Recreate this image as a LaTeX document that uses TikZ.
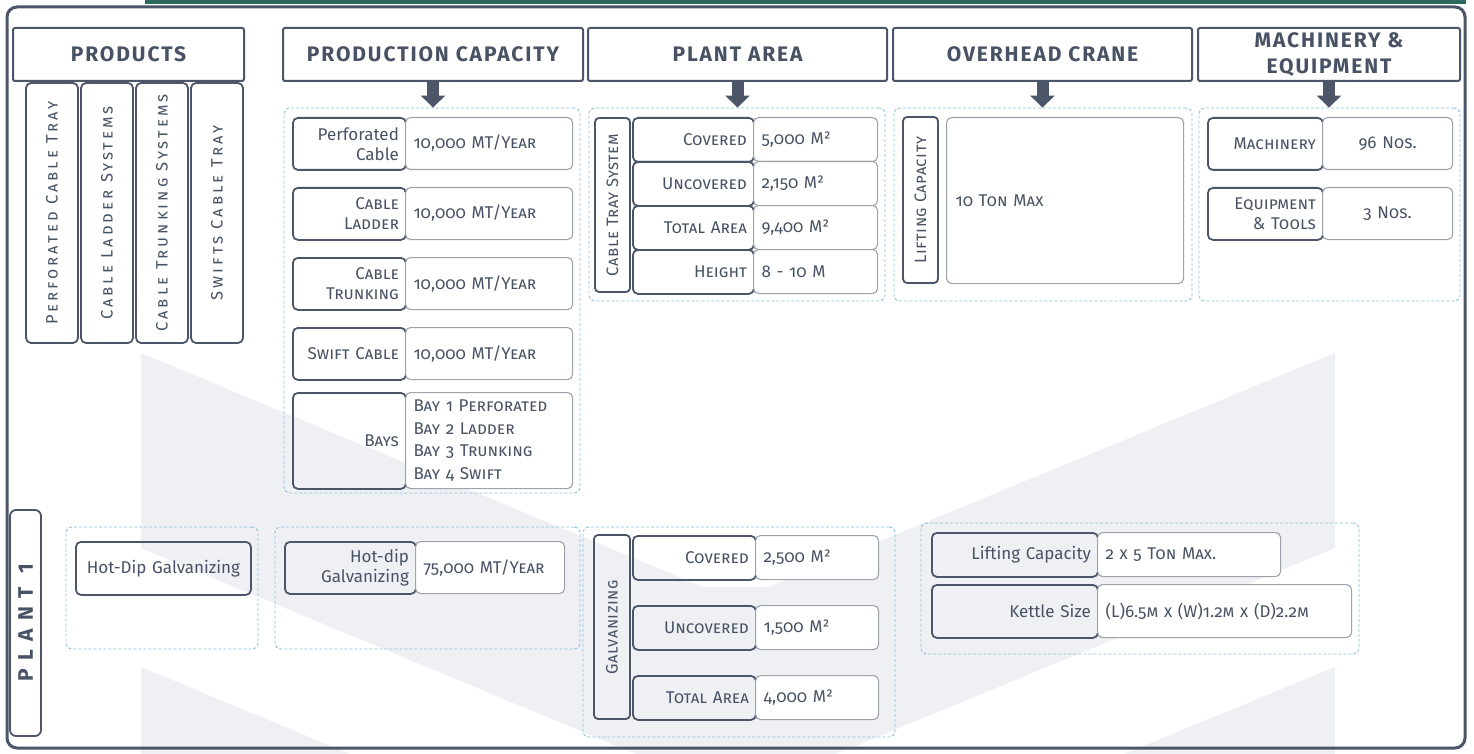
\documentclass[tikz,border=0pt]{standalone}
\usepackage{fontspec}
\setmainfont{Fira Sans}[Numbers=OldStyle]
\newfontfamily\headfont{Fira Sans}[LetterSpace=9]
\newfontfamily\prodfont{Fira Sans}[LetterSpace=18,Numbers=OldStyle]
\newfontfamily\sidefont{Fira Sans}[LetterSpace=3,Numbers=OldStyle]
\newfontfamily\plantfont{Fira Sans}[LetterSpace=40]
\usetikzlibrary{arrows.meta}

\definecolor{slate}{RGB}{76,86,104}
\definecolor{inkc}{RGB}{72,82,100}
\definecolor{valedge}{RGB}{158,162,170}
\definecolor{dashc}{RGB}{140,195,220}
\definecolor{wmark}{RGB}{239,240,244}
\definecolor{topbar}{RGB}{45,104,92}

\newcommand{\bodyfont}{\fontsize{17}{20}\selectfont}

\tikzset{
	head/.style={draw=slate, line width=2pt, rounded corners=2pt, fill=white, text=inkc, align=center, inner sep=0pt, minimum height=53pt, font=\headfont\fontsize{21}{26}\selectfont\bfseries},
	prod/.style={draw=slate, line width=1.8pt, rounded corners=5pt, fill=white, rotate=90, inner sep=0pt, minimum width=260pt, minimum height=52pt, text=inkc, font=\prodfont\fontsize{16.5}{19}\selectfont\scshape},
	side/.style={draw=slate, line width=1.8pt, rounded corners=4pt, rotate=90, inner sep=0pt, text=inkc, font=\sidefont\fontsize{16.5}{19}\selectfont\scshape},
	lab/.style={draw=slate, line width=1.8pt, rounded corners=5pt, anchor=north west, inner xsep=7pt, inner ysep=0pt, align=right, text=inkc, font=\bodyfont\scshape},
	val/.style={draw=valedge, line width=1.1pt, rounded corners=5pt, fill=white, anchor=north west, inner xsep=8pt, inner ysep=0pt, align=left, text=inkc, font=\bodyfont\scshape},
	grp/.style={draw=dashc, line width=0.9pt, dash pattern=on 3pt off 2pt, rounded corners=6pt, inner sep=0pt},
	bigarr/.style={draw=slate, line width=12pt, -{Triangle[length=12pt,width=24pt]}}
}

\begin{document}
\begin{tikzpicture}[x=1pt,y=-1pt]
	\useasboundingbox (0,0) rectangle (1474,754);
	\fill[white] (0,0) rectangle (1474,754);
	\fill[wmark] (141,353) -- (703,587) -- (769,587) -- (1335,353) -- (1335,548) -- (836,754) -- (636,754) -- (141,548) -- cycle;
	\fill[wmark] (141,667) -- (350,754) -- (141,754) -- cycle;
	\fill[wmark] (1335,667) -- (1335,754) -- (1124,754) -- cycle;
	\fill[topbar] (145,0) rectangle (1466,4);
	\draw[slate, line width=3pt, rounded corners=10pt] (7,7) rectangle (1465,748);

	\node[head, minimum width=231pt] (hProd) at (128.5,54.5) {PRODUCTS};
	\node[head, minimum width=300pt] (hCap) at (433,54.5) {PRODUCTION CAPACITY};
	\node[head, minimum width=299pt] (hArea) at (737.5,54.5) {PLANT AREA};
	\node[head, minimum width=299pt] (hCrane) at (1042.5,54.5) {OVERHEAD CRANE};
	\node[head, minimum width=262pt] (hMach) at (1329,54.5) {MACHINERY \&\\EQUIPMENT};

	\node[prod] (pPerf) at (52,213) {Perforated Cable Tray};
	\node[prod] (pLadder) at (107,213) {Cable Ladder Systems};
	\node[prod] (pTrunk) at (162,213) {Cable Trunking Systems};
	\node[prod] (pSwift) at (217,213) {Swifts Cable Tray};

	\node[grp, minimum width=296pt, minimum height=385pt] (gCap) at (432,300.5) {};
	\node[grp, minimum width=296pt, minimum height=193pt] (gArea) at (737,204.5) {};
	\node[grp, minimum width=298pt, minimum height=193pt] (gCrane) at (1043,204.5) {};
	\node[grp, minimum width=261pt, minimum height=193pt] (gMach) at (1329.5,204.5) {};

	\draw[bigarr] (hCap.south) -- (hCap.south |- gCap.north);
	\draw[bigarr] (hArea.south) -- (hArea.south |- gArea.north);
	\draw[bigarr] (hCrane.south) -- (hCrane.south |- gCrane.north);
	\draw[bigarr] (hMach.south) -- (hMach.south |- gMach.north);

	% production capacity
	\node[lab, font=\bodyfont, text width=99pt, minimum height=52pt] (cPerf) at (292,117) {Perforated\\Cable};
	\node[val, text width=151pt, minimum height=52pt] (vPerf) at (405,117) {10,000 MT/Year};
	\node[lab, text width=99pt, minimum height=52pt] (cLadder) at (292,187) {Cable\\Ladder};
	\node[val, text width=151pt, minimum height=52pt] (vLadder) at (405,187) {10,000 MT/Year};
	\node[lab, text width=99pt, minimum height=52pt] (cTrunk) at (292,257) {Cable\\Trunking};
	\node[val, text width=151pt, minimum height=52pt] (vTrunk) at (405,257) {10,000 MT/Year};
	\node[lab, text width=99pt, minimum height=52pt] (cSwift) at (292,327) {Swift Cable};
	\node[val, text width=151pt, minimum height=52pt] (vSwift) at (405,327) {10,000 MT/Year};
	\node[lab, text width=99pt, minimum height=96pt] (cBays) at (292,392) {Bays};
	\node[val, font=\fontsize{17}{22.5}\selectfont\scshape, text width=151pt, minimum height=96pt] (vBays) at (405,392) {Bay 1 Perforated\\Bay 2 Ladder\\Bay 3 Trunking\\Bay 4 Swift};

	% plant area
	\node[side, minimum width=174pt, minimum height=35pt] (sTray) at (612.5,205) {Cable Tray System};
	\node[lab, text width=107pt, minimum height=44pt] (aCov) at (632,117) {Covered};
	\node[val, text width=108pt, minimum height=44pt] (vCov) at (753,117) {5,000 M²};
	\node[lab, text width=107pt, minimum height=44pt] (aUnc) at (632,161) {Uncovered};
	\node[val, text width=108pt, minimum height=44pt] (vUnc) at (753,161) {2,150 M²};
	\node[lab, text width=107pt, minimum height=44pt] (aTot) at (632,205) {Total Area};
	\node[val, text width=108pt, minimum height=44pt] (vTot) at (753,205) {9,400 M²};
	\node[lab, text width=107pt, minimum height=44pt] (aHgt) at (632,249) {Height};
	\node[val, text width=108pt, minimum height=44pt] (vHgt) at (753,249) {8 - 10 M};

	% overhead crane
	\node[side, minimum width=166pt, minimum height=35pt] (sLift) at (920.5,200) {Lifting Capacity};
	\node[val, inner xsep=9pt, text width=219pt, minimum height=166pt] (vLift) at (946,117) {10 Ton Max};

	% machinery
	\node[lab, text width=101pt, minimum height=52pt] (mMach) at (1207,117) {Machinery};
	\node[val, align=center, text width=114pt, minimum height=52pt] (vMach) at (1322,117) {96 Nos.};
	\node[lab, text width=101pt, minimum height=52pt] (mTools) at (1207,187) {Equipment\\\& Tools};
	\node[val, align=center, text width=114pt, minimum height=52pt] (vTools) at (1322,187) {3 Nos.};

	% plant 1
	\node[side, minimum width=226pt, minimum height=31pt, rounded corners=6pt, font=\plantfont\fontsize{21}{24}\selectfont\bfseries] (plant) at (25.5,623) {PLANT 1};

	\node[grp, minimum width=192pt, minimum height=122pt] (gHd) at (162,588) {};
	\node[lab, font=\bodyfont, align=center, text width=161pt, minimum height=53pt] (hdBox) at (75,541) {Hot-Dip Galvanizing};

	\node[grp, minimum width=305pt, minimum height=122pt] (gHdc) at (427.5,588) {};
	\node[lab, font=\bodyfont, text width=117pt, minimum height=52pt] (hdLab) at (284,541) {Hot-dip\\Galvanizing};
	\node[val, text width=133pt, minimum height=52pt] (hdVal) at (415,541) {75,000 MT/Year};

	\node[grp, minimum width=312pt, minimum height=210pt] (gGalv) at (739,632) {};
	\node[side, minimum width=184pt, minimum height=36pt] (sGalv) at (612,627) {Galvanizing};
	\node[lab, text width=109pt, minimum height=44pt] (bCov) at (632,535) {Covered};
	\node[val, text width=107pt, minimum height=44pt] (wCov) at (755,535) {2,500 M²};
	\node[lab, text width=109pt, minimum height=44pt] (bUnc) at (632,605) {Uncovered};
	\node[val, text width=107pt, minimum height=44pt] (wUnc) at (755,605) {1,500 M²};
	\node[lab, text width=109pt, minimum height=44pt] (bTot) at (632,675) {Total Area};
	\node[val, text width=107pt, minimum height=44pt] (wTot) at (755,675) {4,000 M²};

	\node[grp, minimum width=438pt, minimum height=131pt] (gKettle) at (1140,588.5) {};
	\node[lab, font=\bodyfont, text width=152pt, minimum height=44pt] (kLift) at (931,532) {Lifting Capacity};
	\node[val, text width=167pt, minimum height=44pt] (kLiftVal) at (1097,532) {2 x 5 Ton Max.};
	\node[lab, font=\bodyfont, text width=152pt, minimum height=53pt] (kSize) at (931,584) {Kettle Size};
	\node[val, text width=238pt, minimum height=53pt] (kSizeVal) at (1097,584) {(L)6.5m x (W)1.2m x (D)2.2m};
\end{tikzpicture}
\end{document}
